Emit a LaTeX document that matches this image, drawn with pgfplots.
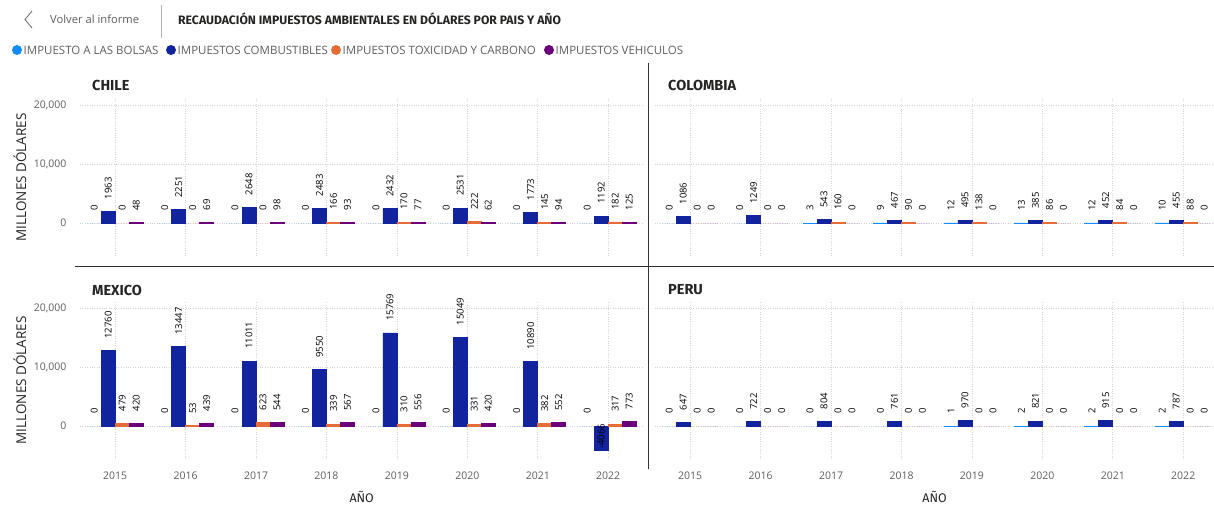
\documentclass[border=0pt]{standalone}
\usepackage{fontspec}
\setmainfont{Open Sans}
\newfontfamily\dinfont{Fira Sans}
\usepackage{pgfplots}
\usepackage{pgfplotstable}
\pgfplotsset{compat=1.18}

\definecolor{cbol}{HTML}{118DFF}
\definecolor{ccom}{HTML}{12239E}
\definecolor{ctox}{HTML}{E66C37}
\definecolor{cveh}{HTML}{6B007B}
\definecolor{tickgray}{HTML}{605E5C}
\definecolor{darktext}{HTML}{252423}

\newcommand{\fs}[1]{\fontsize{#1}{#1}\selectfont}

\pgfplotstableread{
x bol com tox veh
0 0 1963 0 48
1 0 2251 0 69
2 0 2648 0 98
3 0 2483 166 93
4 0 2432 170 77
5 0 2531 222 62
6 0 1773 145 94
7 0 1192 182 125
}\chile
\pgfplotstableread{
x bol com tox veh
0 0 1086 0 0
1 0 1249 0 0
2 3 543 160 0
3 9 467 90 0
4 12 495 138 0
5 13 385 86 0
6 12 452 84 0
7 10 455 88 0
}\colombia
\pgfplotstableread{
x bol com tox veh
0 0 12760 479 420
1 0 13447 53 439
2 0 11011 623 544
3 0 9550 339 567
4 0 15769 310 556
5 0 15049 331 420
6 0 10890 382 552
7 0 -4066 317 773
}\mexico
\pgfplotstableread{
x bol com tox veh
0 0 647 0 0
1 0 722 0 0
2 0 804 0 0
3 0 761 0 0
4 1 970 0 0
5 2 821 0 0
6 2 915 0 0
7 2 787 0 0
}\peru

\pgfplotsset{
 lbl/.style={ybar, bar width=14pt, bar shift=#1, draw=none, fill=none, forget plot,
   nodes near coords,
   nodes near coords style={xshift=#1, rotate=90, anchor=west,
     inner ysep=0pt, font=\fs{9.5}, text=black}},
}
% #1 table, #2 column, #3 colour, #4 shift
\newcommand{\ser}[4]{%
 \addplot[ybar, bar width=14pt, bar shift=#4, fill=#3, draw=none] table[x=x, y=#2] {#1};
 \addplot[ybar, bar width=14pt, bar shift=#4, draw=#3, fill=none, line width=0.7pt, forget plot,
   y filter/.expression={y==0 ? nan : y}] table[x=x, y=#2] {#1};
 \addplot[lbl=#4, nodes near coords style={inner xsep=12pt},
   y filter/.expression={y<0 ? nan : y}] table[x=x, y=#2] {#1};
 \addplot[lbl=#4, nodes near coords style={inner xsep=1pt},
   y filter/.expression={y<0 ? y : nan}] table[x=x, y=#2] {#1};
}
\newcommand{\allser}[1]{%
 \ser{#1}{bol}{cbol}{-21pt}
 \ser{#1}{com}{ccom}{-7pt}
 \ser{#1}{tox}{ctox}{7pt}
 \ser{#1}{veh}{cveh}{21pt}
}

\pgfplotsset{
 panel/.style={
   scale only axis, height=156.4pt,
   xmin=-0.5, ymin=-5500, ymax=21000,
   xtick={0,...,7}, ytick={0,10000,20000},
   grid=major,
   major grid style={dotted, color=black!16, line width=0.7pt},
   axis line style={draw=none}, major tick length=0pt,
   clip=false,
   ticklabel style={font=\fs{10.5}, text=tickgray},
   /pgf/number format/assume math mode=true,
   /pgf/number format/1000 sep={},
   scaled y ticks=false,
   yticklabel style={/pgf/number format/1000 sep={,}, xshift=-10pt},
   xticklabel style={yshift=-10pt},
   ylabel style={at={(axis description cs:-0.1065,0.5)}, anchor=center, font=\fs{13.5}, text=darktext},
   xlabel style={at={(axis description cs:0.5,-0.246)}, anchor=center, font=\dinfont\fs{12.5}, text=darktext},
 },
 leftpanel/.style={panel, width=563.4pt, xmax=7.5, ylabel={MILLONES DÓLARES}},
 rightpanel/.style={panel, width=559pt, xmax=7.437, yticklabels={}},
 toprow/.style={xticklabels={}},
 bottomrow/.style={xticklabels={2015,2016,2017,2018,2019,2020,2021,2022}, xlabel={AÑO}},
}

\begin{document}
\begin{tikzpicture}
\useasboundingbox (0,0) rectangle (1214pt,506pt);

% header
\draw[color=black!55, line width=0.9pt] (32pt,495pt) -- (25pt,486.5pt) -- (32pt,478pt);
\node[anchor=west, inner sep=0pt, font=\fs{11.2}, text=tickgray] at (50pt,486.5pt) {Volver al informe};
\draw[black!30, line width=0.8pt] (161pt,501pt) -- (161pt,468pt);
\node[anchor=west, inner sep=0pt, font=\dinfont\bfseries\fs{12.2}, text=darktext] at (178pt,487pt) {RECAUDACIÓN IMPUESTOS AMBIENTALES EN DÓLARES POR PAIS Y AÑO};

% legend
\fill[cbol] (17pt,456pt) circle (5pt);
\node[anchor=west, inner sep=0pt, font=\fs{11.5}, text=tickgray] at (23.5pt,456pt) {IMPUESTO A LAS BOLSAS};
\fill[ccom] (171pt,456pt) circle (5pt);
\node[anchor=west, inner sep=0pt, font=\fs{11.5}, text=tickgray] at (177.5pt,456pt) {IMPUESTOS COMBUSTIBLES};
\fill[ctox] (336pt,456pt) circle (5pt);
\node[anchor=west, inner sep=0pt, font=\fs{11.5}, text=tickgray] at (342.5pt,456pt) {IMPUESTOS TOXICIDAD Y CARBONO};
\fill[cveh] (549pt,456pt) circle (5pt);
\node[anchor=west, inner sep=0pt, font=\fs{11.5}, text=tickgray] at (555.5pt,456pt) {IMPUESTOS VEHICULOS};

% panel separators
\draw[black!80, line width=0.8pt] (648pt,443pt) -- (648pt,37pt);
\draw[black!80, line width=0.8pt] (75pt,240pt) -- (1214pt,240pt);

% panel titles
\node[anchor=west, inner sep=0pt, font=\dinfont\bfseries\fs{14.5}, text=darktext] at (92pt,421pt) {CHILE};
\node[anchor=west, inner sep=0pt, font=\dinfont\bfseries\fs{14.5}, text=darktext] at (668pt,421pt) {COLOMBIA};
\node[anchor=west, inner sep=0pt, font=\dinfont\bfseries\fs{14.5}, text=darktext] at (92pt,216pt) {MEXICO};
\node[anchor=west, inner sep=0pt, font=\dinfont\bfseries\fs{14.5}, text=darktext] at (668pt,216pt) {PERU};

\begin{axis}[leftpanel, toprow, at={(80pt,250.5pt)}, anchor=south west]
\allser{\chile}
\end{axis}
\begin{axis}[rightpanel, toprow, at={(655pt,250.5pt)}, anchor=south west]
\allser{\colombia}
\end{axis}
\begin{axis}[leftpanel, bottomrow, at={(80pt,47.5pt)}, anchor=south west]
\allser{\mexico}
\end{axis}
\begin{axis}[rightpanel, bottomrow, at={(655pt,47.5pt)}, anchor=south west]
\allser{\peru}
\end{axis}
\end{tikzpicture}
\end{document}
